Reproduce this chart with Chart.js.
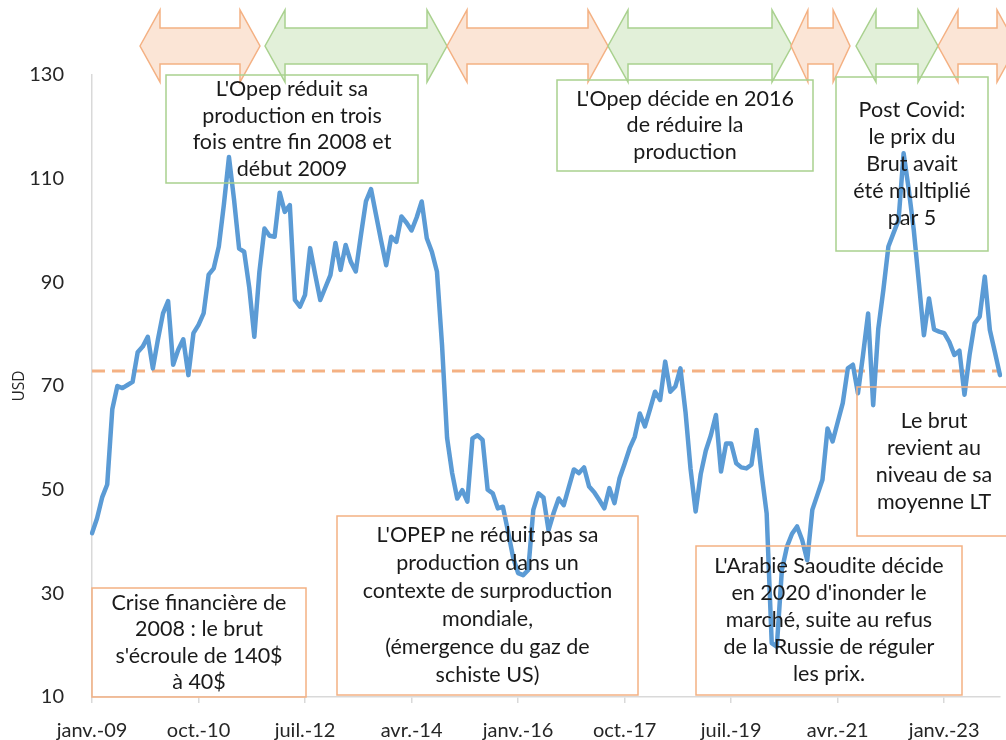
<!DOCTYPE html>
<html>
<head>
<meta charset="utf-8">
<script src="https://cdn.jsdelivr.net/npm/chart.js@4.4.1/dist/chart.umd.min.js"></script>
<style>
html,body{margin:0;padding:0;background:#fff;}
#wrap{width:1006px;height:740px;position:relative;}
canvas{display:block;}
</style>
</head>
<body>
<div id="wrap"><canvas id="c" width="1006" height="740"></canvas></div>
<script>
// ---- Data ----
const moisAbr = ['janv.','févr.','mars','avr.','mai','juin','juil.','août','sept.','oct.','nov.','déc.'];
const annees = ['09','10','11','12','13','14','15','16','17','18','19','20','21','22','23'];
const tickLabels = ['janv.-09','oct.-10','juil.-12','avr.-14','janv.-16','oct.-17','juil.-19','avr.-21','janv.-23'];
const yTicks = [10,30,50,70,90,110,130];
const prixUSD = [
  41.6,44.5,48.5,51.0,65.5,70.0,69.6,70.2,70.8,76.5,77.6,79.5,
  73.4,79.0,84.0,86.4,74.1,77.0,79.0,72.1,80.2,81.8,84.0,91.5,
  92.7,96.9,105.0,114.2,106.0,96.5,95.9,89.0,79.5,92.0,100.4,99.0,
  98.8,107.3,103.6,104.9,86.6,85.3,87.6,96.6,91.5,86.6,89.0,91.4,
  97.6,92.4,97.2,94.0,92.1,99.0,105.6,108.0,103.0,98.0,93.3,98.8,
  97.8,102.7,101.5,100.0,102.5,105.6,98.5,95.9,92.1,78.0,60.0,53.2,
  48.3,49.9,47.7,59.9,60.5,59.6,50.0,49.3,46.4,46.7,42.0,37.0,
  33.9,33.5,34.5,46.1,49.3,48.5,42.2,45.5,48.3,47.0,50.5,53.9,
  53.2,54.3,50.6,49.5,48.0,46.4,50.3,47.4,52.2,55.0,58.0,60.2,
  64.7,62.2,65.5,68.9,67.3,74.7,68.9,69.9,73.4,65.0,54.0,45.8,
  53.0,57.5,60.5,64.4,53.5,58.9,58.9,55.1,54.3,54.1,54.8,61.5,
  53.0,45.4,20.4,19.7,34.5,39.0,41.5,42.9,40.3,36.4,46.1,49.0,
  51.9,61.8,59.3,63.0,66.7,73.4,74.1,68.6,76.0,84.0,66.3,81.0,
  88.5,96.9,99.5,102.0,114.9,108.0,100.1,90.0,79.8,86.9,80.9,80.5,
  80.2,78.5,76.0,76.8,68.3,76.0,82.1,83.4,91.1,80.8,76.5,72.1
];
const moyenneLT = 72.9;

const categories = [];
annees.forEach(a => moisAbr.forEach(m => categories.push(m + '-' + a)));

// ---- Decorations (annotations) ----
const COL_OR = '#F4B183', COL_OR_FILL = '#FBE5D6';
const COL_GR = '#A9D18E', COL_GR_FILL = '#E2F0D9';
const fleches = [
  {x1:140, x2:260, c:'o'}, {x1:265, x2:447, c:'g'}, {x1:447, x2:608, c:'o'},
  {x1:608, x2:792, c:'g'}, {x1:791, x2:850, c:'o'}, {x1:856, x2:938, c:'g'},
  {x1:938, x2:1017, c:'o'}
];
const encadres = [
  {b:[166,75,418,183], c:'g', lh:26.5, t:["L'Opep réduit sa","production en trois","fois entre fin 2008 et","début 2009"]},
  {b:[557,80,813,171], c:'g', lh:26.5, t:["L'Opep décide en 2016","de réduire la","production"]},
  {b:[836,77,988,251], c:'g', lh:27, t:["Post Covid:","le prix du","Brut avait","été multiplié","par 5"]},
  {b:[92,588,306,697], c:'o', lh:26.5, t:["Crise financière de","2008 : le brut","s'écroule de 140$","à 40$"]},
  {b:[337,516,638,695], c:'o', lh:28, t:["L'OPEP ne réduit pas sa","production dans un","contexte de surproduction","mondiale,","(émergence du gaz de","schiste US)"]},
  {b:[696,546,962,695], c:'o', lh:27, t:["L'Arabie Saoudite décide","en 2020 d'inonder le","marché, suite au refus","de la Russie de réguler","les prix."]},
  {b:[857,387,1011,536], c:'o', lh:27, t:["Le brut","revient au","niveau de sa","moyenne LT"]}
];
const FONT_TXT = '21.5px Lato';

const decorPlugin = {
  id: 'decor',
  beforeDraw(chart) {
    const ctx = chart.ctx;
    ctx.save();
    ctx.fillStyle = '#fff';
    ctx.fillRect(0, 0, chart.width, chart.height);
    ctx.restore();
  },
  afterDraw(chart) {
    const ctx = chart.ctx;
    ctx.save();
    // arrows
    const top = 10, bot = 82, sTop = 28, sBot = 64, cy = 46;
    fleches.forEach(f => {
      const h = Math.min(20, (f.x2 - f.x1) / 3.5);
      ctx.beginPath();
      ctx.moveTo(f.x1, cy);
      ctx.lineTo(f.x1 + h, top);
      ctx.lineTo(f.x1 + h, sTop);
      ctx.lineTo(f.x2 - h, sTop);
      ctx.lineTo(f.x2 - h, top);
      ctx.lineTo(f.x2, cy);
      ctx.lineTo(f.x2 - h, bot);
      ctx.lineTo(f.x2 - h, sBot);
      ctx.lineTo(f.x1 + h, sBot);
      ctx.lineTo(f.x1 + h, bot);
      ctx.closePath();
      ctx.fillStyle = f.c === 'o' ? COL_OR_FILL : COL_GR_FILL;
      ctx.fill();
      ctx.lineWidth = 1.5;
      ctx.strokeStyle = f.c === 'o' ? COL_OR : COL_GR;
      ctx.stroke();
    });
    // boxes
    encadres.forEach(e => {
      const [x1, y1, x2, y2] = e.b;
      ctx.lineWidth = 1.5;
      ctx.strokeStyle = e.c === 'o' ? COL_OR : COL_GR;
      ctx.strokeRect(x1, y1, x2 - x1, y2 - y1);
      ctx.fillStyle = '#1a1a1a';
      ctx.font = FONT_TXT;
      ctx.textAlign = 'center';
      ctx.textBaseline = 'middle';
      const cx = (x1 + x2) / 2, cyb = (y1 + y2) / 2;
      const n = e.t.length;
      e.t.forEach((line, i) => {
        ctx.fillText(line, cx, cyb + (i - (n - 1) / 2) * e.lh);
      });
    });
    ctx.restore();
  }
};

new Chart(document.getElementById('c'), {
  type: 'line',
  data: {
    labels: categories,
    datasets: [
      {
        label: 'Prix (USD)',
        data: prixUSD,
        borderColor: '#5B9BD5',
        borderWidth: 4.5,
        pointRadius: 0,
        tension: 0,
        borderJoinStyle: 'round',
        borderCapStyle: 'round',
        fill: false,
        order: 0
      },
      {
        label: 'Moyenne LT',
        data: categories.map(() => moyenneLT),
        borderColor: '#F4B183',
        borderWidth: 3,
        borderDash: [13, 7],
        pointRadius: 0,
        fill: false,
        order: 1
      }
    ]
  },
  options: {
    responsive: false,
    animation: false,
    devicePixelRatio: 1,
    layout: { padding: { top: 75, right: 6, bottom: 0, left: 0 } },
    plugins: { legend: { display: false }, tooltip: { enabled: false } },
    scales: {
      x: {
        type: 'category',
        offset: false,
        afterFit(s) { s.height = 43; },
        grid: { display: true, drawOnChartArea: false, drawTicks: true, tickLength: 6, color: '#d9d9d9', lineWidth: 1.5 },
        border: { display: true, color: '#d9d9d9', width: 1.5 },
        ticks: {
          autoSkip: false, maxRotation: 0, minRotation: 0, padding: 16,
          color: '#262626', font: { family: 'Lato', size: 20 },
          callback(val, idx) {
            const l = categories[idx];
            return tickLabels.includes(l) ? l : null;
          }
        }
      },
      y: {
        min: 10, max: 130,
        afterFit(s) { s.width = 92; },
        afterBuildTicks(s) { s.ticks = yTicks.map(v => ({ value: v })); },
        grid: { display: false },
        border: { display: true, color: '#d9d9d9', width: 1.5 },
        ticks: { padding: 20, color: '#262626', font: { family: 'Lato', size: 20 } },
        title: { display: true, text: 'USD', color: '#262626', font: { family: 'Open Sans', size: 15.5 }, padding: { top: 10, bottom: 0 } }
      }
    }
  },
  plugins: [decorPlugin]
});
</script>
</body>
</html>
